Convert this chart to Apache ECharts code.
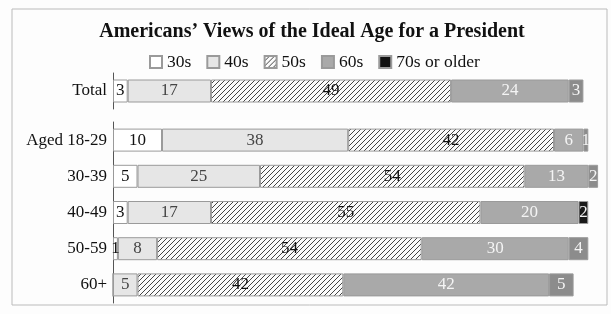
<!DOCTYPE html>
<html>
<head>
<meta charset="utf-8">
<script src="https://cdn.jsdelivr.net/npm/echarts@6/dist/echarts.min.js"></script>
<style>
  html, body { margin: 0; padding: 0; background: #fdfdfd; }
  #chart { width: 611px; height: 314px; }
</style>
</head>
<body>
<div id="chart"></div>
<script>
// 数据
const categories = ["Total", "Aged 18-29", "30-39", "40-49", "50-59", "60+"];
const seriesNames = ["30s", "40s", "50s", "60s", "70s or older"];
const s30 = [3, 10, 5, 3, 1, 0];
const s40 = [17, 38, 25, 17, 8, 5];
const s50 = [49, 42, 54, 55, 54, 42];
const s60 = [24, 6, 13, 20, 30, 42];
const s70 = [3, 1, 2, 2, 4, 5];

// 斜线填充
function hatch() {
  const c = document.createElement("canvas");
  c.width = 5;
  c.height = 5;
  const ctx = c.getContext("2d");
  ctx.fillStyle = "#fbfbfb";
  ctx.fillRect(0, 0, 5, 5);
  ctx.strokeStyle = "#444";
  ctx.lineWidth = 1;
  ctx.beginPath();
  ctx.moveTo(0, 5); ctx.lineTo(5, 0);
  ctx.moveTo(-1, 1); ctx.lineTo(1, -1);
  ctx.moveTo(4, 6); ctx.lineTo(6, 4);
  ctx.stroke();
  return c;
}

const fills = ["#ffffff", "#e6e6e6", { image: hatch(), repeat: "repeat" }, "#a9a9a9", "#8c8c8c"];
const labelColors = ["#111", "#444", "#111", "#f4f4f4", "#f4f4f4"];
const values = [s30, s40, s50, s60, s70];
const font = "Liberation Serif";

const series = [];
[0, 1].forEach((g) => {
  values.forEach((arr, i) => {
    const data = g === 0 ? arr.slice(0, 1) : arr.slice(1);
    series.push({
      name: seriesNames[i],
      type: "bar",
      stack: "g" + g,
      xAxisIndex: g,
      yAxisIndex: g,
      barWidth: 23,
      data: data.map((v, k) => {
        const row = g === 0 ? 0 : k + 1;
        const item = { value: v };
        if (i === 4 && categories[row] === "40-49") {
          item.itemStyle = { color: "#1a1a1a" };
        }
        return item;
      }),
      itemStyle: { color: fills[i], borderColor: "#9a9a9a", borderWidth: 1 },
      label: {
        show: true,
        position: "inside",
        fontFamily: font,
        fontSize: 17,
        color: labelColors[i],
        formatter: (p) => (p.value > 0 ? p.value : ""),
      },
      emphasis: { disabled: true },
    });
  });
});

const myChart = echarts.init(document.getElementById("chart"));
const option = {
  animation: false,
  backgroundColor: "#fdfdfd",
  title: {
    text: "Americans\u2019 Views of the Ideal Age for a President",
    left: 307,
    textAlign: "center",
    top: 17,
    textStyle: { fontFamily: font, fontWeight: "bold", fontSize: 20, color: "#111" },
  },
  legend: {
    data: seriesNames.map((n, i) => (i === 4 ? { name: n, itemStyle: { color: "#111" } } : n)),
    left: 144,
    top: 48,
    itemWidth: 12,
    itemHeight: 12,
    itemGap: 15,
    icon: "rect",
    selectedMode: false,
    textStyle: { fontFamily: font, fontSize: 17.5, color: "#111" },
  },
  grid: [
    { left: 113, right: 8, top: 73, height: 36 },
    { left: 113, right: 8, top: 122, height: 181 },
  ],
  xAxis: [0, 1].map((g) => ({
    type: "value",
    gridIndex: g,
    min: 0,
    max: 100,
    show: false,
  })),
  yAxis: [0, 1].map((g) => ({
    type: "category",
    gridIndex: g,
    inverse: true,
    data: g === 0 ? categories.slice(0, 1) : categories.slice(1),
    axisLine: { show: true, lineStyle: { color: "#555", width: 1 } },
    axisTick: { show: false },
    axisLabel: { fontFamily: font, fontSize: 17, color: "#111", margin: 6 },
  })),
  graphic: [
    {
      type: "rect",
      shape: { x: 12, y: 9, width: 595, height: 296 },
      style: { fill: "none", stroke: "#bbb", lineWidth: 1 },
      silent: true,
    },
  ],
  series: series,
};
myChart.setOption(option);
</script>
</body>
</html>
